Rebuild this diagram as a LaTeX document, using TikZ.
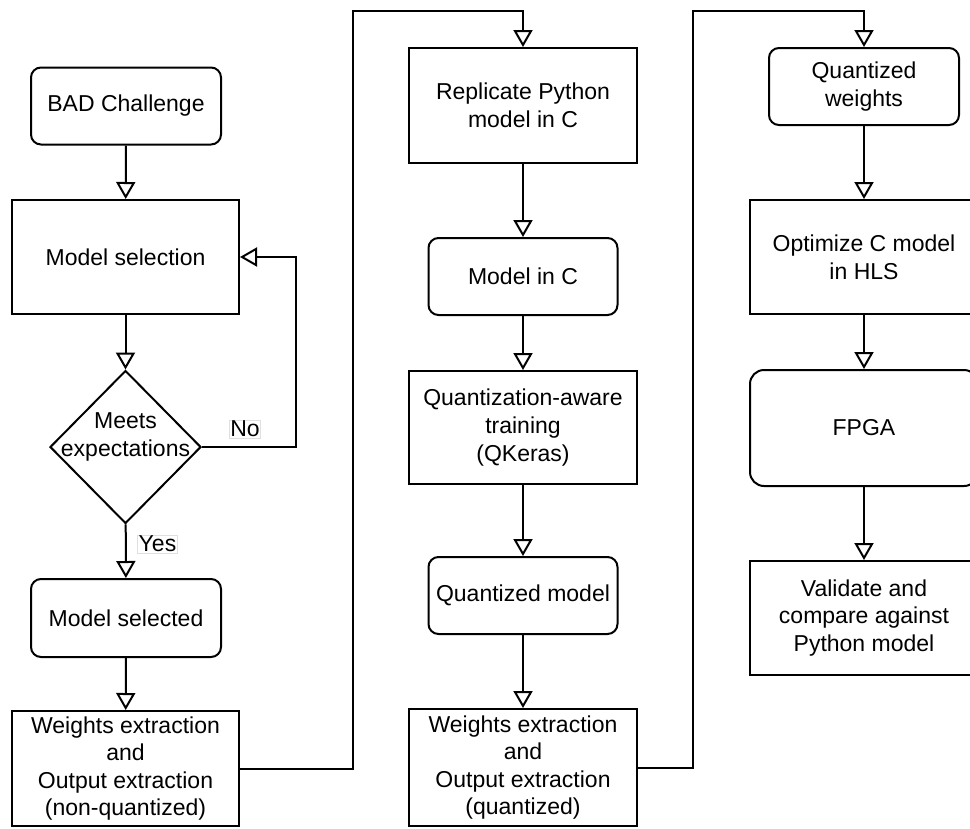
\documentclass[tikz,border=0pt]{standalone}
\usepackage{fontspec}
\setmainfont{Liberation Sans}
\usetikzlibrary{arrows.meta,shapes.geometric}

\tikzset{
  base/.style={draw=black, line width=2pt, align=center, inner sep=0pt,
    font=\fontsize{23}{27.6}\selectfont},
  box/.style={base, rectangle, minimum width=228pt, minimum height=114pt},
  rbox/.style={base, rectangle, rounded corners=10pt, minimum width=190pt, minimum height=77pt},
  decision/.style={base, diamond, minimum width=151pt, minimum height=153pt},
  flow/.style={line width=2pt, -{Triangle[open, length=17pt, width=19pt]}},
  edgelabel/.style={draw=black!12, fill=white, line width=0.6pt, inner sep=1pt,
    font=\fontsize{23}{27.6}\selectfont}
}

\begin{document}
\begin{tikzpicture}[x=1pt, y=-1pt]
  \useasboundingbox (0,0) rectangle (970,828);

  % first column: selecting the model
  \node[rbox] (bad) at (126,106) {BAD Challenge};
  \node[box, minimum width=227pt] (sel) at (125.5,257) {Model selection};
  \node[decision] (dec) at (125.5,447) {};
  \node[font=\fontsize{23}{27.6}\selectfont, align=center] (dectext) at (125.5,437) {Meets\\expectations};
  \node[rbox, minimum height=78pt] (chosen) at (126,618) {Model selected};
  \node[box, minimum width=227pt, minimum height=115pt] (w1) at (125.5,768.5)
    {Weights extraction\\and\\Output extraction\\(non-quantized)};

  % second column: C model and quantization
  \node[box, minimum height=115pt] (repl) at (523,105.5) {Replicate Python\\model in C};
  \node[rbox, minimum width=189pt] (cmod) at (523,276.5) {Model in C};
  \node[box, minimum height=113pt] (qat) at (523,427.5) {Quantization-aware\\training\\(QKeras)};
  \node[rbox, minimum width=189pt] (qmod) at (523,595.5) {Quantized model};
  \node[box, minimum height=117pt] (w2) at (523,767.5)
    {Weights extraction\\and\\Output extraction\\(quantized)};

  % third column: hardware implementation
  \node[rbox] (qw) at (864,86.5) {Quantized\\weights};
  \node[box] (hls) at (864,257) {Optimize C model\\in HLS};
  \node[box, minimum height=116pt, rounded corners=14pt] (fpga) at (864,428) {FPGA};
  \node[box] (val) at (864,618) {Validate and\\compare against\\Python model};

  % turning points of the long connectors
  \coordinate (fb) at (296,447);
  \coordinate (up1) at (353,11);
  \coordinate (up2) at (693,11);

  % connectors
  \draw[flow] (bad) -- (sel);
  \draw[flow] (sel) -- (dec);
  \draw[flow] (dec) -- (chosen);
  \draw[flow] (dec.east) -- (fb) |- (sel.east);
  \draw[flow] (chosen) -- (w1);
  \draw[flow] (w1.east) -| (up1) -| (repl.north);
  \draw[flow] (repl) -- (cmod);
  \draw[flow] (cmod) -- (qat);
  \draw[flow] (qat) -- (qmod);
  \draw[flow] (qmod) -- (w2);
  \draw[flow] (w2.east) -| (up2) -| (qw.north);
  \draw[flow] (qw) -- (hls);
  \draw[flow] (hls) -- (fpga);
  \draw[flow] (fpga) -- (val);

  % branch labels
  \node[edgelabel] (no) at (245,429) {No};
  \node[edgelabel] (yes) at (157.5,544) {Yes};
\end{tikzpicture}
\end{document}
